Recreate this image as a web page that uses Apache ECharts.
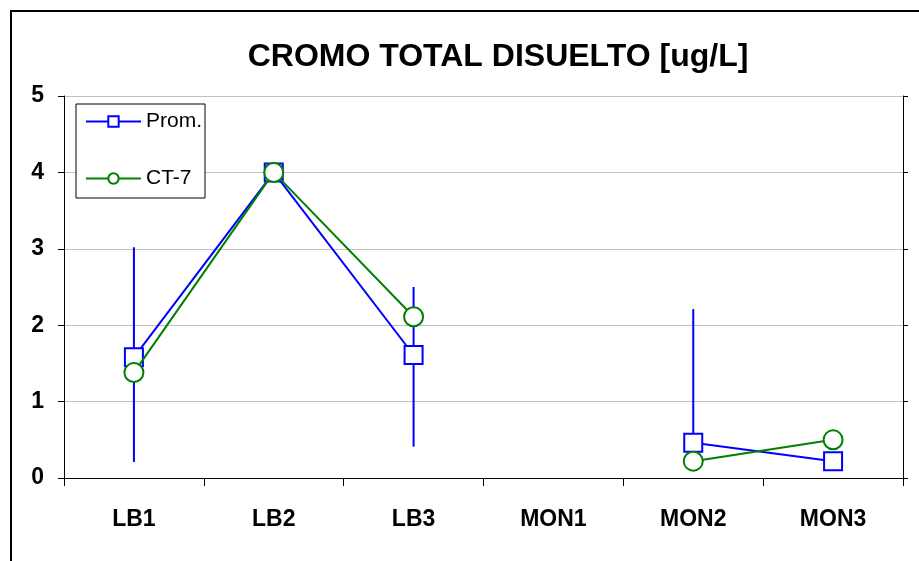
<!DOCTYPE html>
<html><head><meta charset="utf-8">
<script src="https://cdn.jsdelivr.net/npm/echarts@6/dist/echarts.min.js"></script>
<style>html,body{margin:0;padding:0;background:#fff}#c{width:919px;height:561px}</style>
</head><body><div id="c"></div>
<script>
var categories = ['LB1','LB2','LB3','MON1','MON2','MON3'];
var prom = [1.58, 4.0, 1.61, null, 0.46, 0.22];
var ct7 = [1.38, 4.0, 2.11, null, 0.22, 0.50];
var errLow = [0.21, 4.0, 0.41, null, 0.46, 0.22];
var errHigh = [3.02, 4.0, 2.50, null, 2.21, 0.22];
var yTicks = [0, 1, 2, 3, 4, 5];

var errData = [];
categories.forEach(function (c, i) {
  if (errLow[i] != null && errHigh[i] != null && errHigh[i] > errLow[i]) errData.push([i, errLow[i], errHigh[i]]);
});

var font = '"Liberation Sans", Arial, sans-serif';
var chart = echarts.init(document.getElementById('c'));
chart.setOption({
  animation: false,
  backgroundColor: '#fff',
  graphic: [{
    type: 'rect', left: 10, top: 10, z: -10,
    shape: { width: 940, height: 600 },
    style: { fill: '#fff', stroke: '#000', lineWidth: 2 }
  }, {
    type: 'text', x: 498, y: 57, z: 10,
    style: { text: 'CROMO TOTAL DISUELTO [ug/L]', font: 'bold 32px ' + font,
      fill: '#000', align: 'center', verticalAlign: 'middle' }
  }],
  legend: {
    orient: 'vertical', left: 76, top: 104,
    backgroundColor: '#fff', borderColor: '#000', borderWidth: 1,
    padding: [7, 3, 9, 9], itemGap: 36, itemWidth: 55, itemHeight: 13,
    textStyle: { fontFamily: font, fontSize: 21, color: '#000' },
    data: ['Prom.', 'CT-7']
  },
  grid: { left: 64, right: 16, top: 96, bottom: 83 },
  xAxis: {
    type: 'category', data: categories, boundaryGap: true,
    axisLine: { lineStyle: { color: '#000', width: 1 } },
    axisTick: { show: true, length: 8, lineStyle: { color: '#000' } },
    axisLabel: { fontFamily: font, fontSize: 23, fontWeight: 'bold', color: '#000', margin: 30 },
    splitLine: { show: false }
  },
  yAxis: [{
    type: 'value', min: 0, max: 5, interval: 1,
    axisLine: { show: true, lineStyle: { color: '#000' } },
    axisTick: { show: true, length: 6, lineStyle: { color: '#000' } },
    axisLabel: { fontFamily: font, fontSize: 23, fontWeight: 'bold', color: '#000', margin: 20,
      padding: [5, 0, 0, 0],
      formatter: function (v) { return yTicks.indexOf(v) >= 0 ? String(v) : ''; } },
    splitLine: { show: true, lineStyle: { color: '#c0c0c0', width: 1 } }
  }, {
    type: 'value', min: 0, max: 5, interval: 1, position: 'right',
    axisLine: { show: true, lineStyle: { color: '#000' } },
    axisTick: { show: true, length: 5, inside: false, lineStyle: { color: '#000' } },
    axisLabel: { show: false },
    splitLine: { show: false }
  }],
  series: [{
    type: 'custom', name: 'err', z: 1,
    renderItem: function (params, api) {
      var p1 = api.coord([api.value(0), api.value(1)]);
      var p2 = api.coord([api.value(0), api.value(2)]);
      return { type: 'line', shape: { x1: p1[0], y1: p1[1], x2: p2[0], y2: p2[1] },
        style: { stroke: '#0000ff', lineWidth: 2 } };
    },
    encode: { x: 0, y: [1, 2] },
    data: errData
  }, {
    name: 'Prom.', type: 'line', data: prom, z: 2,
    symbol: 'rect', symbolSize: 18, showAllSymbol: true, connectNulls: false,
    lineStyle: { color: '#0000ff', width: 2 },
    itemStyle: { color: '#fff', borderColor: '#0000ff', borderWidth: 2 }
  }, {
    name: 'CT-7', type: 'line', data: ct7, z: 3,
    symbol: 'circle', symbolSize: 19, showAllSymbol: true, connectNulls: false,
    lineStyle: { color: '#008000', width: 2 },
    itemStyle: { color: '#fff', borderColor: '#008000', borderWidth: 2 }
  }]
});
</script></body></html>
